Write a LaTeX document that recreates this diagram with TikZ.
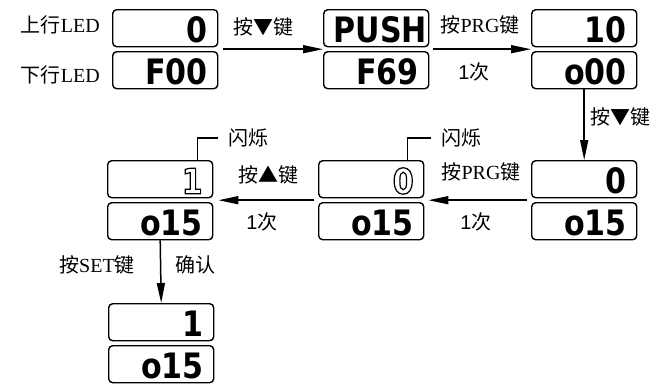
\documentclass[tikz,border=0pt]{standalone}
\usepackage{fontspec}
\setmainfont{Liberation Serif}
\newfontfamily\cjk{Noto Sans CJK SC}
\newfontfamily\lsans{Liberation Sans}
\newfontfamily\segfont{DejaVu Sans}[FakeStretch=0.86]
\usetikzlibrary{arrows.meta,calc}
\newcommand\outl[1]{\special{pdf:literal direct 1 Tr 1.2 w}#1\special{pdf:literal direct 0 Tr}}
\tikzset{
  lcd/.style={draw, line width=1.4pt, rounded corners=4pt, anchor=north west,
    text width=85pt, align=right, inner xsep=10pt, inner ysep=4pt,
    text height=29pt, text depth=0pt,
    font=\segfont\bfseries\fontsize{35}{35}\selectfont},
  lbl/.style={inner sep=0pt, font=\fontsize{20}{22}\selectfont},
  arr/.style={line width=1.5pt, -{Triangle[length=20pt,width=8pt]}},
  callout/.style={line width=1.3pt}
}
\begin{document}
\begin{tikzpicture}[x=1pt,y=-1pt]
\useasboundingbox (0,0) rectangle (657,386);
% displays
\node[lcd] (u1) at (112,9) {0};
\node[lcd] (l1) at (112,51) {F00};
\node[lcd] (u2) at (323,9) {PUSH};
\node[lcd] (l2) at (323,51) {F69};
\node[lcd] (u3) at (531,9) {10};
\node[lcd] (l3) at (531,51) {o00};
\node[lcd] (u4) at (531,160) {0};
\node[lcd] (l4) at (531,202) {o15};
\node[lcd] (u5) at (318,160) {\outl{0}};
\node[lcd] (l5) at (318,202) {o15};
\node[lcd] (u6) at (107,160) {\outl{1}};
\node[lcd] (l6) at (107,202) {o15};
\node[lcd] (u7) at (108,303) {1};
\node[lcd] (l7) at (108,345) {o15};
% arrows
\draw[arr] ($(u1.south east)!.5!(l1.north east)+(5,0)$) -- ($(u2.south west)!.5!(l2.north west)$);
\draw[arr] ($(u2.south east)!.5!(l2.north east)+(4,0)$) -- ($(u3.south west)!.5!(l3.north west)$);
\draw[arr] (l3.south) -- (u4.north);
\draw[arr] ($(u4.south west)!.5!(l4.north west)+(-4,0)$) -- ($(u5.south east)!.5!(l5.north east)+(4,0)$);
\draw[arr] ($(u5.south west)!.5!(l5.north west)+(-4,0)$) -- ($(u6.south east)!.5!(l6.north east)+(5,0)$);
\draw[arr] (l6.south) -- (u7.north);
% callouts
\node[lbl, anchor=west] (f6) at (228,138) {\cjk 闪烁};
\draw[callout] ([xshift=-16pt]u6.north east) |- ([xshift=-10pt]f6.west);
\node[lbl, anchor=west] (f5) at (441,138) {\cjk 闪烁};
\draw[callout] ([xshift=-17pt]u5.north east) |- ([xshift=-10pt]f5.west);
% labels
\node[lbl, anchor=east] (t1) at (100,25) {{\cjk 上行}LED};
\node[lbl, anchor=east] (t2) at (100,75) {{\cjk 下行}LED};
\node[lbl] (a1) at (263,27) {\cjk 按▼键};
\node[lbl] (a2) at (480,25) {{\cjk 按}PRG{\cjk 键}};
\node[lbl] (a2b) at (474,72) {{\lsans 1}{\cjk 次}};
\node[lbl, anchor=west] (a3) at (590,117) {\cjk 按▼键};
\node[lbl] (a4) at (481,172) {{\cjk 按}PRG{\cjk 键}};
\node[lbl] (a4b) at (476,222) {{\lsans 1}{\cjk 次}};
\node[lbl] (a5) at (268,175) {\cjk 按▲键};
\node[lbl] (a5b) at (262,222) {{\lsans 1}{\cjk 次}};
\node[lbl] (a6) at (97,265) {{\cjk 按}SET{\cjk 键}};
\node[lbl] (a6b) at (195,265) {\cjk 确认};
\end{tikzpicture}
\end{document}
